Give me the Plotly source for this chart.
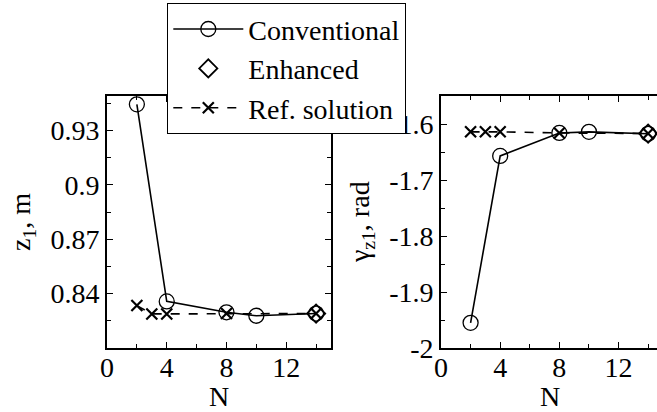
import plotly.graph_objects as go

# Data
n_conv = [2, 4, 8, 10, 14]
z1_conv = [0.9444, 0.8357, 0.8297, 0.8278, 0.8290]
g_conv = [-1.955, -1.657, -1.616, -1.614, -1.6175]

n_enh = [14]
z1_enh = [0.8290]
g_enh = [-1.617]

n_ref = [2, 3, 4, 8, 14]
z1_ref = [0.8334, 0.8288, 0.8288, 0.8290, 0.8290]
g_ref = [-1.614, -1.614, -1.614, -1.616, -1.617]

x_tickvals = [0, 4, 8, 12]
x_ticktext = ["0", "4", "8", "12"]
z1_tickvals = [0.84, 0.87, 0.90, 0.93]
z1_ticktext = ["0.84", "0.87", "0.9", "0.93"]
g_tickvals = [-2.0, -1.9, -1.8, -1.7, -1.6]
g_ticktext = ["-2", "-1.9", "-1.8", "-1.7", "-1.6"]

FONT = "Liberation Serif, Times New Roman, DejaVu Serif, serif"
W, H = 657, 412

fig = go.Figure()

def add_panel(xa, ya, yconv, yenh, yref, show):
    fig.add_trace(go.Scatter(x=n_conv, y=yconv, mode="lines+markers", name="Conventional",
                             line=dict(color="black", width=1.6),
                             marker=dict(symbol="circle-open", size=15, color="black", line=dict(width=1.3)),
                             xaxis=xa, yaxis=ya, showlegend=show))
    fig.add_trace(go.Scatter(x=n_enh, y=yenh, mode="markers", name="Enhanced",
                             marker=dict(symbol="diamond-open", size=14, color="black", line=dict(width=1.8)),
                             xaxis=xa, yaxis=ya, showlegend=show))
    fig.add_trace(go.Scatter(x=n_ref, y=yref, mode="lines+markers", name="Ref. solution",
                             line=dict(color="black", width=1.6, dash="dash"),
                             marker=dict(symbol="x-thin-open", size=11, color="black", line=dict(width=2.2, color="black")),
                             xaxis=xa, yaxis=ya, showlegend=show))

add_panel("x", "y", z1_conv, z1_enh, z1_ref, True)
add_panel("x2", "y2", g_conv, g_enh, g_ref, False)

tickfont = dict(family=FONT, size=28, color="black")

x_left = [107 / W, 331 / W]
x_right = [441 / W, 1.0]
y_dom = [1 - 348 / H, 1 - 96 / H]

common_x = dict(showline=True, linecolor="black", linewidth=1.6, ticks="inside", ticklen=6,
                tickwidth=1.3, tickcolor="black", tickmode="array", tickvals=x_tickvals, ticktext=x_ticktext,
                showgrid=False, zeroline=False, tickfont=tickfont, automargin=False, ticklabelstandoff=-6,
                minor=dict(ticks="inside", ticklen=4, tick0=0, dtick=2, tickcolor="black", tickwidth=1.3, showgrid=False))

fig.update_layout(
    width=W, height=H,
    margin=dict(l=0, r=0, t=0, b=0, autoexpand=False),
    plot_bgcolor="white", paper_bgcolor="white",
    font=dict(family=FONT, size=28, color="black"),
    xaxis=dict(domain=x_left, range=[0, 15], anchor="y", mirror="ticks", **common_x),
    yaxis=dict(domain=y_dom, range=[0.81, 0.949], anchor="x", showline=True, linecolor="black", linewidth=1.6,
               mirror="ticks", ticks="inside", ticklen=6, tickwidth=1.3, tickcolor="black",
               tickmode="array", tickvals=z1_tickvals, ticktext=z1_ticktext, automargin=False,
               showgrid=False, zeroline=False, tickfont=tickfont,
               minor=dict(ticks="inside", ticklen=4, tick0=0.81, dtick=0.015, tickcolor="black", tickwidth=1.3)),
    xaxis2=dict(domain=x_right, range=[0, 14.6], anchor="y2", mirror="ticks", **common_x),
    yaxis2=dict(domain=y_dom, range=[-2.0, -1.55], anchor="x2", showline=True, linecolor="black", linewidth=1.6,
                mirror=False, ticks="inside", ticklen=6, tickwidth=1.3, tickcolor="black",
                tickmode="array", tickvals=g_tickvals, ticktext=g_ticktext, automargin=False,
                showgrid=False, zeroline=False, tickfont=tickfont,
                minor=dict(ticks="inside", ticklen=4, tick0=-2, dtick=0.05, tickcolor="black", tickwidth=1.3)),
    legend=dict(x=167 / W, y=1 - 3 / H, xanchor="left", yanchor="top",
                bgcolor="white", bordercolor="black", borderwidth=1.3,
                font=dict(family=FONT, size=28, color="black"),
                itemwidth=70, tracegroupgap=0),
    annotations=[
        dict(text="N", x=219 / W, y=1 - 396 / H, xref="paper", yref="paper", showarrow=False,
             font=tickfont, xanchor="center", yanchor="middle"),
        dict(text="N", x=550 / W, y=1 - 396 / H, xref="paper", yref="paper", showarrow=False,
             font=tickfont, xanchor="center", yanchor="middle"),
        dict(text="z<sub>1</sub>, m", x=22 / W, y=1 - 222 / H, xref="paper", yref="paper", showarrow=False,
             font=tickfont, textangle=-90, xanchor="center", yanchor="middle"),
        dict(text="γ<sub>z1</sub>, rad", x=361 / W, y=1 - 222 / H, xref="paper", yref="paper", showarrow=False,
             font=tickfont, textangle=-90, xanchor="center", yanchor="middle"),
    ],
)

fig.write_html("out.html", config={"displayModeBar": False},
               post_script="document.body.style.margin='0';document.body.style.overflow='hidden';")
